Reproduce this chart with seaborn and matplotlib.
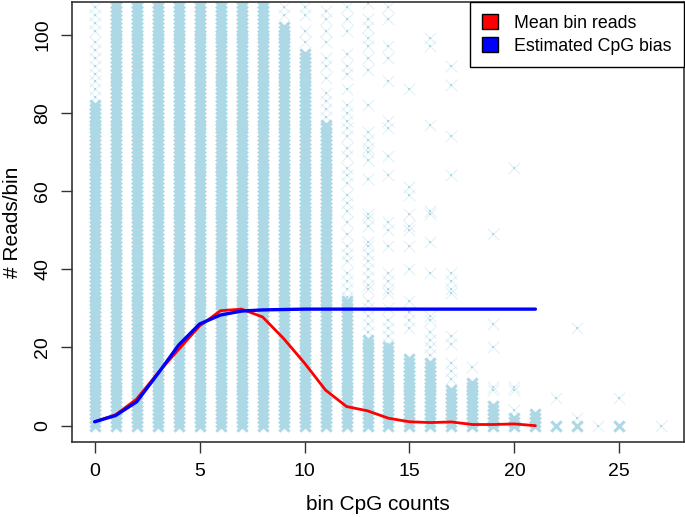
import numpy as np
import pandas as pd
import seaborn as sns
import matplotlib.pyplot as plt
from matplotlib.patches import Patch

# CpG count per bin (x) and read counts observed per bin (y)
cpg_counts = list(range(28))
# highest read count up to which every integer value is observed (-1 = none)
dense_top = [82, 108, 108, 108, 108, 108, 108, 108, 108, 102, 95, 77, 32, 22,
             20, 17, 16, 9, 11, 5, 2, 3, 0, 0, -1, 0, -1, -1]
# isolated read counts above the dense part
sparse_reads = {
    0: [84, 86, 88, 90, 92, 94, 96, 98, 101, 103, 105, 107],
    9: [105, 107],
    10: [98, 101, 105, 107],
    11: [79, 81, 83, 85, 89, 92, 94, 98, 101, 104, 106],
    12: [33, 35, 37, 39, 42, 44, 46, 49, 52, 55, 57, 59, 62, 64, 66, 69,
         71, 74, 76, 78, 80, 82, 86, 90, 92, 95, 101, 104, 107],
    13: [24, 26, 28, 30, 32, 35, 36, 38, 40, 42, 44, 46, 47, 51, 53, 54,
         63, 68, 70, 71, 73, 75, 82, 91, 94, 97, 99, 102, 104, 108],
    14: [21, 23, 25, 27, 30, 34, 35, 37, 39, 46, 50, 52, 64, 69, 76, 78,
         88, 94, 97, 104, 107],
    15: [25, 27, 29, 32, 40, 46, 50, 51, 54, 59, 61, 86],
    16: [18, 20, 22, 24, 27, 28, 39, 47, 54, 55, 77, 97, 99],
    17: [12, 14, 16, 21, 23, 34, 35, 37, 39, 64, 74, 87, 92],
    18: [15],
    19: [9, 10, 20, 26, 49],
    20: [4, 9, 10, 66],
    22: [7],
    23: [2, 25],
    24: [0],
    25: [7],
    27: [0],
}

# per-CpG summaries
mean_cpg = list(range(22))
mean_reads = [1.0, 2.8, 6.8, 13.4, 19.5, 25.5, 29.4, 29.8, 27.8, 22.3, 16.0,
              9.1, 4.9, 3.8, 1.9, 1.0, 0.8, 0.95, 0.3, 0.3, 0.45, 0.0]
bias_fit = [1.0, 2.6, 6.1, 13.2, 20.6, 26.0, 28.3, 29.3, 29.6, 29.7, 29.8,
            29.8, 29.8, 29.8, 29.8, 29.8, 29.8, 29.8, 29.8, 29.8, 29.8, 29.8]

x_ticks = [0, 5, 10, 15, 20, 25]
y_ticks = [0, 20, 40, 60, 80, 100]

rows = []
for c, top in zip(cpg_counts, dense_top):
    for r in range(0, top + 1):
        rows.append((c, r))
dense = pd.DataFrame(rows, columns=["cpg", "reads"])
sparse = pd.DataFrame([(c, r) for c, rs in sparse_reads.items() for r in rs],
                      columns=["cpg", "reads"])
summary = pd.DataFrame({"cpg": mean_cpg, "mean": mean_reads, "bias": bias_fit})

sns.set_style("ticks")
plt.rcParams["font.family"] = ["Liberation Sans", "DejaVu Sans"]
plt.rcParams["text.color"] = "black"
plt.rcParams["axes.labelcolor"] = "black"
plt.rcParams["xtick.color"] = "black"
plt.rcParams["ytick.color"] = "black"

fig = plt.figure(figsize=(6.85, 5.17), dpi=100)
ax = fig.add_axes([72 / 685, 1 - 442.3 / 517, 612 / 685, 440.6 / 517])

sns.scatterplot(data=dense, x="cpg", y="reads", marker="x", color="lightblue",
                s=55, linewidth=2.2, ax=ax, legend=False, zorder=1)
# isolated bins: faint cross with a darker centre
sns.scatterplot(data=sparse, x="cpg", y="reads", marker="x", color="lightblue",
                s=70, linewidth=0.6, alpha=0.45, ax=ax, legend=False, zorder=1)
sns.scatterplot(data=sparse, x="cpg", y="reads", marker="s", color="lightblue",
                s=4, linewidth=0, ax=ax, legend=False, zorder=1)
sns.lineplot(data=summary, x="cpg", y="mean", color="red", linewidth=2,
             ax=ax, zorder=3)
sns.lineplot(data=summary, x="cpg", y="bias", color="blue", linewidth=2.4,
             ax=ax, zorder=4)

ax.set_xlim(-1.08, 28.08)
ax.set_ylim(-4.25, 108.4)
ax.set_xticks(x_ticks)
ax.set_yticks(y_ticks)
ax.set_xticklabels([str(t) for t in x_ticks], fontsize=14)
ax.set_yticklabels([str(t) for t in y_ticks], fontsize=14, rotation=90,
                   va="center")
ax.tick_params(axis="both", length=8, width=1, color="#333333", pad=7)
for sp in ax.spines.values():
    sp.set_visible(True)
    sp.set_color("#333333")
    sp.set_linewidth(1.2)
ax.set_xlabel("bin CpG counts", fontsize=15, labelpad=11)
ax.set_ylabel("# Reads/bin", fontsize=15, labelpad=9)

handles = [Patch(facecolor="red", edgecolor="black", label="Mean bin reads"),
           Patch(facecolor="blue", edgecolor="black", label="Estimated CpG bias")]
leg = ax.legend(handles=handles, loc="upper right", fontsize=12.8, frameon=True,
                fancybox=False, framealpha=1, edgecolor="black",
                borderaxespad=0, handlelength=0.9, handleheight=0.9,
                handletextpad=0.9, borderpad=0.7, labelspacing=0.3)
leg.get_frame().set_linewidth(1)

fig.savefig("out.png", dpi=100)
